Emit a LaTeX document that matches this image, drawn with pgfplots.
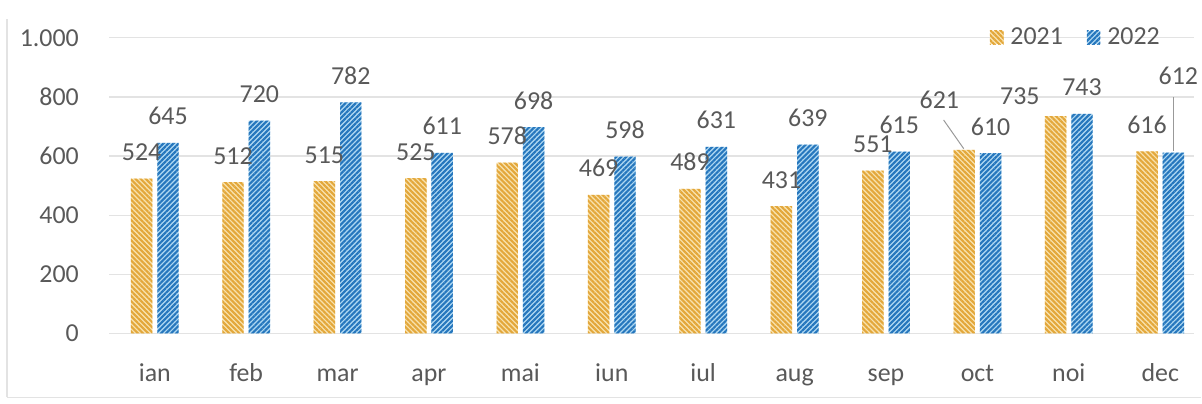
\documentclass[border=0pt]{standalone}
\usepackage{pgfplots}
\pgfplotsset{compat=1.18}
\usepackage{pgfplotstable}
\usepackage{fontspec}
\setmainfont{Carlito}
\usetikzlibrary{patterns.meta,calc}
\definecolor{txt}{HTML}{595959}
\definecolor{gridc}{HTML}{E3E3E3}
\definecolor{ylight}{HTML}{F8E2AE}
\definecolor{ydark}{HTML}{E3A73A}
\definecolor{blight}{HTML}{AFD8F2}
\definecolor{bdark}{HTML}{2576BD}

\pgfplotstableread{
x y dx dy
0 524 0 0
1 512 0 0
2 515 0 0
3 525 0 0
4 578 0 0
5 469 0 0
6 489 0 0
7 431 0 0
8 551 0 0
9 621 -12.5 12
10 735 -18 -3
11 616 0 0
}\dataA
\pgfplotstableread{
x y dx dy
0 645 0 0
1 720 0 0
2 782 0 0
3 611 0 0
4 698 0 0
5 598 0 0
6 631 0 0
7 639 0 0
8 615 0 0
9 610 0 0
10 743 0 0
11 612 2.5 25
}\dataB

\begin{document}
\begin{tikzpicture}
\begin{axis}[
  scale only axis,
  width=545pt, height=148.5pt,
  xmin=-0.5, xmax=11.37,
  ymin=0, ymax=1000,
  ybar=2.5pt,
  bar width=10.75pt,
  axis line style={draw=none},
  ymajorgrids,
  grid style={gridc, line width=0.6pt},
  ytick={0,200,400,600,800,1000},
  xtick={0,...,11},
  xticklabels={ian,feb,mar,apr,mai,iun,iul,aug,sep,oct,noi,dec},
  major tick length=0pt,
  tick style={draw=none},
  /pgf/number format/assume math mode=true,
  /pgf/number format/1000 sep={.},
  ticklabel style={font=\fontsize{13}{15}\selectfont, text=txt},
  yticklabel style={anchor=east, inner sep=0pt, xshift=-15pt},
  xticklabel style={anchor=base, inner sep=0pt, yshift=-24pt},
  nodes near coords,
  visualization depends on={\thisrow{dx}\as\dx},
  visualization depends on={\thisrow{dy}\as\dy},
  nodes near coords style={font=\fontsize{13}{15}\selectfont, text=txt, inner sep=0pt, anchor=base, xshift=\dx pt, yshift=9pt+\dy pt},
  legend columns=2,
  legend style={draw=none, fill=none, at={(axis description cs:1,1)}, anchor=east, xshift=-15pt, yshift=0pt,
    font=\fontsize{13}{15}\selectfont, text=txt, inner sep=0pt,
    /tikz/every odd column/.append style={column sep=1.5pt},
    /tikz/every even column/.append style={column sep=10pt}},
  legend image code/.code={\fill[#1,draw=none] (0pt,-3.3pt) rectangle (6.8pt,3.5pt);},
]
\addplot[draw=none, fill=ylight, postaction={pattern={Lines[angle=-45,distance=1.8pt,line width=1.05pt]}, pattern color=ydark}]
  table[x=x,y=y] {\dataA};
\addlegendentry{2021}
\addplot[draw=none, fill=blight, postaction={pattern={Lines[angle=45,distance=1.8pt,line width=1.05pt]}, pattern color=bdark}]
  table[x=x,y=y] {\dataB};
\addlegendentry{2022}
\draw[gray!80, line width=0.5pt] (axis cs:8.63,722) -- (axis cs:8.85,625);
\draw[gray!80, line width=0.5pt] (axis cs:11.15,800) -- (axis cs:11.15,617);
\end{axis}
\pgfresetboundingbox
\path ($(current axis.south west)+(-54.8pt,-35pt)$) rectangle ++(601pt,202.5pt);
\draw[gridc, line width=0.6pt] ($(current axis.south west)+(-51.3pt,-32pt)$) -- ++(0,190pt);
\draw[gridc, line width=0.6pt] ($(current axis.south west)+(-51.3pt,-32pt)$) -- ++(600pt,0);
\end{tikzpicture}
\end{document}
